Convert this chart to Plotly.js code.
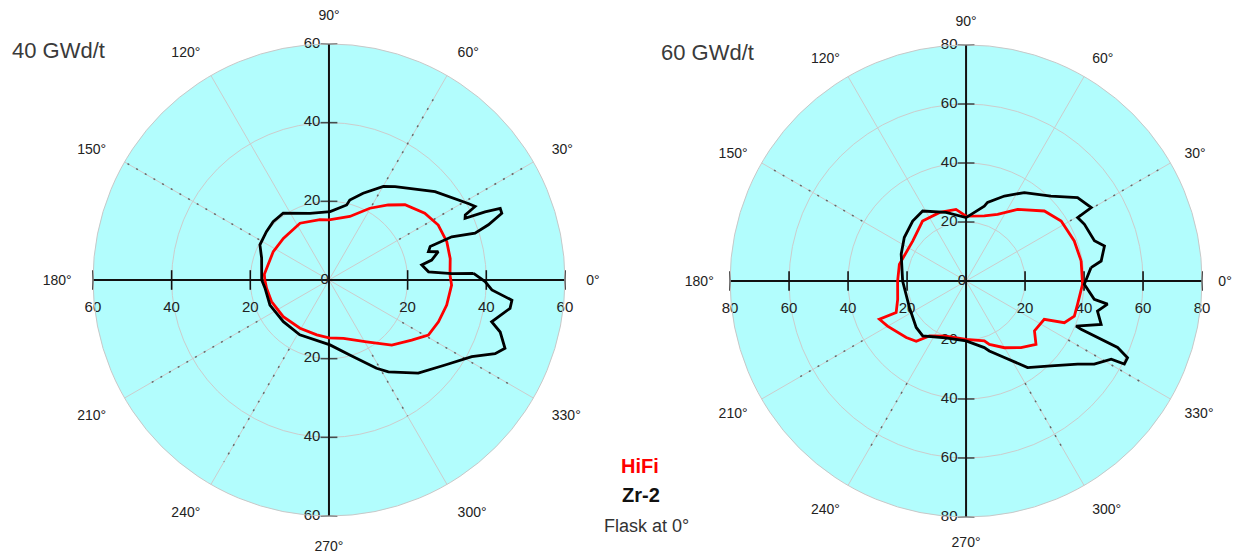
<!DOCTYPE html>
<html>
<head>
<meta charset="utf-8">
<script src="https://cdn.plot.ly/plotly-3.0.1.min.js"></script>
<style>html,body{margin:0;padding:0;background:#fff;}#chart{width:1233px;height:554px;}</style>
</head>
<body>
<div id="chart"></div>
<script>
// ---------- data (theta in degrees, r in chart units) ----------
const hifi40Theta = [2.4,10,18,26.7,34.9,44.7,51.7,60.3,71.8,90,98.5,117,137.6,153,175,180,187.5,200.6,218.7,239,257.5,270,284,301.4,314,324,331,339.1,348,357.6,362.4];
const hifi40R     = [30.8,31.3,31.5,31.1,29.7,27.2,24.3,21,17,15.3,15.5,16.2,15.7,15.9,16.5,16.3,16,15.6,14.9,14.3,14.3,14.7,15.3,18.4,23,26,28.9,29.8,30.6,31.2,30.8];

const zr40Theta = [2.6,3,4.7,9.2,11,14.5,15.9,18.3,19.4,17.8,19.1,21.1,22.7,23.6,24.4,25.5,26.7,28.8,39.8,54.7,59.8,68.5,75.4,76.7,89,105.9,124.4,133.8,142.3,153,162,180,187,203,222.4,242,270.9,285.5,298.3,302.9,313.8,323.8,331.8,336.1,338.8,343.1,345.6,351.1,353.7,356.5,359.4,362.6];
const zr40R     = [36.8,31.3,25.4,23.9,26.6,28.7,26.3,27.1,33.1,39,42.9,47.1,47.2,43.3,38,38.4,41.6,40.4,35.1,29.1,27.5,23.7,21,19.6,17.4,17.6,20.6,20.5,20.1,19.7,18,17.1,16.4,16.3,15.7,15.8,16.5,19.8,25.5,27.8,32.8,36.6,41.2,46.2,48,45.5,42.7,46.6,46.8,41.5,39.7,36.8];

const hifi60Theta = [9.9,20.3,32.2,41.8,54.2,64.7,74.3,90,98,111,126,143,166,180,195,204.3,203.8,209.9,223.4,230.4,236.3,250,270,287,290.2,299.9,309.5,317.8,323.9,333.9,337,342,348.2,358.4,369.9];
const hifi60R     = [39.6,39.1,38.1,35.6,29.9,25,22.9,22,24.5,24.9,25.1,22.6,23.3,23.2,24,26,32.1,30.7,27.9,26.5,22.4,19.9,19.8,21.2,22.9,26.1,29.3,32,28.7,29.5,36.2,38.6,38.6,39.5,39.6];

const zr60Theta = [6.1,8.4,14.2,17.4,25.6,29.6,30.4,36.8,45,56.6,65.7,74.7,76.3,90,106.3,121.8,131.7,144.9,157.5,180,205,223,231.7,250,270,285.3,288.4,296.6,305.4,315,323.3,327,331.7,332.3,334.6,336.3,337.2,337.7,342.2,347.1,350.7,351.9,358.4,366.1];
const zr60R     = [42.6,46.3,48.4,45.6,44.5,43.5,49.2,47.2,40.7,35.9,31.6,27.6,26.1,21.5,24.2,27.9,27.2,25.6,23.8,21.5,21.2,23.1,23.7,20.5,20.3,23.4,25,29,36,40.7,47.2,51.8,55.9,60.6,60.6,56.1,42.3,40.3,48.1,45.7,48.6,43.9,40.1,42.6];

// dotted partial radial lines
const dot40Angles = [30,60,150,210,240,300,330];
const dot40Start  = [20.6,22,20.5,21,20.2,22,21.5];
const dot40End    = [57.4,53.9,59.4,52.6,53.4,40,53];
const dot60Angles = [30,150,210,240,300,330];
const dot60Start  = [40.7,40.6,40.5,40,40,40];
const dot60End    = [76,76,65.7,66,66,70];

// axis tick labels
const range40 = 60, range60 = 80;
const ticks40 = [20,40,60];
const ticks60 = [20,40,60,80];
const seriesNames = ['HiFi','Zr-2'];
const panelTitles = ['40 GWd/t','60 GWd/t'];
const noteText = 'Flask at 0°';

// ---------- build ----------
const FONT = 'Liberation Sans, Arial, sans-serif';
const traces = [];

function addPanel(sub, range, ticks, dotA, dotS, dotE, hT, hR, zT, zR) {
  dotA.forEach((a,i) => {
    traces.push({type:'scatterpolar', subplot:sub, mode:'lines', r:[dotS[i],dotE[i]], theta:[a,a],
      line:{color:'#666', width:1.5, dash:'2px,8px'}, hoverinfo:'skip', showlegend:false});
  });
  traces.push({type:'scatterpolar', subplot:sub, mode:'lines', r:[range,0,range], theta:[180,0,0],
    line:{color:'#111', width:2}, hoverinfo:'skip', showlegend:false});
  traces.push({type:'scatterpolar', subplot:sub, mode:'lines', r:[range,0,range], theta:[90,0,270],
    line:{color:'#111', width:2}, hoverinfo:'skip', showlegend:false});
  const hr = ticks.concat(ticks), ht = ticks.map(()=>180).concat(ticks.map(()=>0));
  traces.push({type:'scatterpolar', subplot:sub, mode:'markers', r:hr, theta:ht,
    marker:{symbol:'line-ns', size:14, color:'#111', line:{color:'#111', width:1.6}},
    hoverinfo:'skip', showlegend:false});
  traces.push({type:'scatterpolar', subplot:sub, mode:'markers+text', r:hr, theta:ht,
    text:hr.map(String), textposition:'bottom center',
    marker:{size:32, color:'rgba(0,0,0,0)'},
    textfont:{family:FONT, size:15, color:'#222'}, hoverinfo:'skip', showlegend:false});
  const vr = ticks.concat([0]).concat(ticks), vt = ticks.map(()=>90).concat([0]).concat(ticks.map(()=>270));
  traces.push({type:'scatterpolar', subplot:sub, mode:'markers+text', r:vr, theta:vt,
    text:vr.map(String), textposition:'middle left',
    marker:{symbol:'line-ew', size:vr.map(v=>v===0?0:12), color:'#111', line:{color:'#111', width:1.6}},
    textfont:{family:FONT, size:15, color:'#222'}, hoverinfo:'skip', showlegend:false});
  traces.push({type:'scatterpolar', subplot:sub, mode:'lines', r:hR, theta:hT, name:seriesNames[0],
    line:{color:'#ff0000', width:2.8}, showlegend:false});
  traces.push({type:'scatterpolar', subplot:sub, mode:'lines', r:zR, theta:zT, name:seriesNames[1],
    line:{color:'#000000', width:2.8}, showlegend:false});
}

addPanel('polar', range40, ticks40, dot40Angles, dot40Start, dot40End, hifi40Theta, hifi40R, zr40Theta, zr40R);
addPanel('polar2', range60, ticks60, dot60Angles, dot60Start, dot60End, hifi60Theta, hifi60R, zr60Theta, zr60R);

function polarLayout(dx, dy, range, ticks, tlen) {
  return {
    domain:{x:dx, y:dy},
    bgcolor:'#b2fdfd',
    angularaxis:{rotation:0, direction:'counterclockwise', dtick:30, ticksuffix:'°',
      showline:true, linecolor:'#c8c8c8', linewidth:1, gridcolor:'#cccccc', gridwidth:1,
      ticks:'outside', ticklen:tlen, tickcolor:'rgba(0,0,0,0)',
      tickfont:{family:FONT, size:14, color:'#222'}},
    radialaxis:{range:[0,range], tickvals:ticks.slice(0,-1), showticklabels:false, showline:false,
      ticks:'', gridcolor:'#cccccc', gridwidth:1}
  };
}

const layout = {
  width:1233, height:554,
  margin:{l:0, r:0, t:0, b:0},
  paper_bgcolor:'#ffffff',
  showlegend:false,
  polar: polarLayout([0.0754,0.4582],[0.0686,0.9206], range40, ticks40, 18),
  polar2: polarLayout([0.5921,0.9749],[0.0668,0.9188], range60, ticks60, 13),
  annotations:[
    {text:panelTitles[0], xref:'paper', yref:'paper', x:0.0081, y:0.9097, xanchor:'left', yanchor:'middle', showarrow:false,
      font:{family:FONT, size:22, color:'#3a3a3a'}},
    {text:panelTitles[1], xref:'paper', yref:'paper', x:0.5345, y:0.906, xanchor:'left', yanchor:'middle', showarrow:false,
      font:{family:FONT, size:22, color:'#3a3a3a'}},
    {text:'<b>'+seriesNames[0]+'</b>', xref:'paper', yref:'paper', x:0.519, y:0.1588, xanchor:'center', yanchor:'middle', showarrow:false,
      font:{family:FONT, size:20, color:'#ff0000'}},
    {text:'<b>'+seriesNames[1]+'</b>', xref:'paper', yref:'paper', x:0.52, y:0.1065, xanchor:'center', yanchor:'middle', showarrow:false,
      font:{family:FONT, size:20, color:'#111'}},
    {text:noteText, xref:'paper', yref:'paper', x:0.524, y:0.0505, xanchor:'center', yanchor:'middle', showarrow:false,
      font:{family:FONT, size:18, color:'#333'}}
  ]
};

Plotly.newPlot('chart', traces, layout, {staticPlot:true, displayModeBar:false});
</script>
</body>
</html>
